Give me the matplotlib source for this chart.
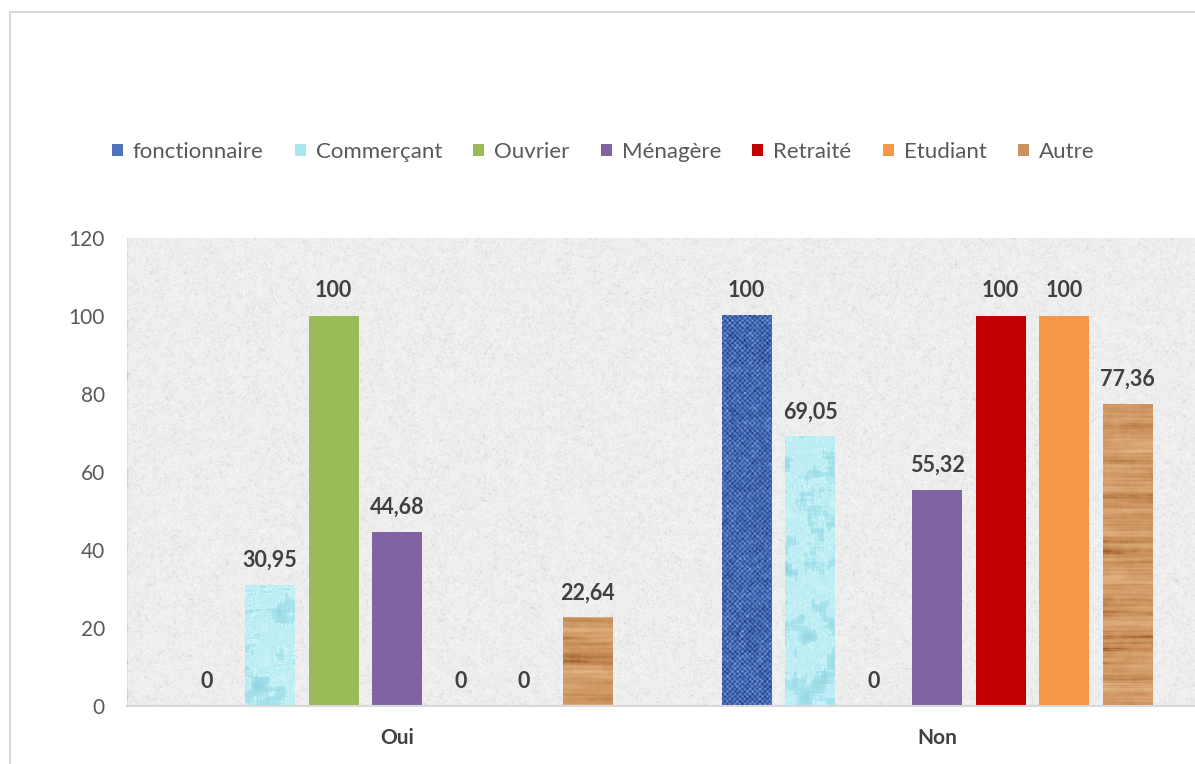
import numpy as np
import matplotlib
matplotlib.use("Agg")
import matplotlib.pyplot as plt
from matplotlib.colors import LinearSegmentedColormap
from matplotlib.patches import Patch
from matplotlib.lines import Line2D

plt.rcParams['font.family'] = ['Lato', 'DejaVu Sans']

groups = ["Oui", "Non"]
professions = ["fonctionnaire", "Commerçant", "Ouvrier", "Ménagère",
               "Retraité", "Etudiant", "Autre"]
fonctionnaire = [0, 100]
commercant = [30.95, 69.05]
ouvrier = [100, 0]
menagere = [44.68, 55.32]
retraite = [0, 100]
etudiant = [0, 100]
autre = [22.64, 77.36]
series = [fonctionnaire, commercant, ouvrier, menagere, retraite, etudiant, autre]

colors = ["#4f74bd", "#a9e6ef", "#9bbb59", "#8064a2", "#c00000", "#f79646", "#c9925e"]
textures = ["weave", "bubbles", None, None, None, None, "wood"]

rng = np.random.default_rng(7)


def blur(a, kx, ky):
    # separable box blur
    if kx > 1:
        k = np.ones(kx) / kx
        a = np.apply_along_axis(lambda r: np.convolve(r, k, mode="same"), 1, a)
    if ky > 1:
        k = np.ones(ky) / ky
        a = np.apply_along_axis(lambda c: np.convolve(c, k, mode="same"), 0, a)
    return a


def norm(a):
    a = a - a.min()
    return a / (a.max() + 1e-9)


def make_texture(kind, w, h):
    h = max(h, 2)
    if kind == "weave":
        yy, xx = np.mgrid[0:h, 0:w]
        grid = np.cos(np.pi * xx / 2.5) * np.cos(np.pi * yy / 2.5)
        n = norm(blur(rng.random((h + 6, w + 6)), 2, 2))[3:h + 3, 3:w + 3]
        coarse = norm(blur(rng.random((h + 10, w + 10)), 5, 5))[5:h + 5, 5:w + 5]
        t = 0.3 * grid + 0.5 * n + 0.3 * coarse
        cmap = LinearSegmentedColormap.from_list("w", ["#162e62", "#34589f", "#5d83cc", "#a6c3f3"])
        return cmap(norm(t))
    if kind == "bubbles":
        n = blur(rng.random((h + 30, w + 30)), 13, 13)[15:h + 15, 15:w + 15]
        n = norm(n)
        ridge = np.exp(-((n - 0.55) / 0.05) ** 2)
        t = 0.7 * n + 0.3 * ridge
        cmap = LinearSegmentedColormap.from_list("b", ["#8fd2de", "#aee7ef", "#cff5f9"])
        return cmap(norm(t))
    if kind == "wood":
        fine = norm(blur(rng.random((h + 10, w + 160)), 120, 3)[5:h + 5, 80:w + 80])
        broad = norm(blur(rng.random((h + 20, w + 160)), 140, 9)[10:h + 10, 80:w + 80])
        n = norm(0.45 * fine + 0.55 * broad)
        cmap = LinearSegmentedColormap.from_list("o", ["#98582a", "#c0854f", "#d39e6b", "#e3b684"])
        return cmap(n ** 0.8)
    return None


W, H = 1195, 764
fig = plt.figure(figsize=(W / 100, H / 100), dpi=100)

# outer chart frame
fig.add_artist(Line2D([10 / W, 10 / W], [0, 1 - 12 / H], color="#d9d9d9", lw=1.5))
fig.add_artist(Line2D([10 / W, 1], [1 - 12 / H, 1 - 12 / H], color="#d9d9d9", lw=1.5))

ax_l, ax_r, ax_t, ax_b = 127, 1207, 238, 706
ax = fig.add_axes([ax_l / W, 1 - ax_b / H, (ax_r - ax_l) / W, (ax_b - ax_t) / H])

ymax = 120
px_per_unit = (ax_b - ax_t) / ymax
cat_px = (ax_r - ax_l) / 2
slot = 63.5 / cat_px
width = 50 / cat_px

# granite background
bh, bw = ax_b - ax_t, ax_r - ax_l
fine = blur(rng.random((bh, bw)), 2, 2)
mid = blur(rng.random((bh, bw)), 5, 5)
bg = norm(0.6 * norm(fine) + 0.4 * norm(mid))
bg_cmap = LinearSegmentedColormap.from_list("g", ["#b0b0b0", "#d6d6d6", "#ececec", "#f7f7f7"])
ax.imshow(bg_cmap(bg ** 0.55), extent=(-0.5, 1.5, 0, ymax), aspect="auto",
          interpolation="nearest", zorder=0)

x = np.arange(len(groups))
for i, (vals, col, tex) in enumerate(zip(series, colors, textures)):
    pos = x + (i - 3) * slot
    bars = ax.bar(pos, vals, width, color=col, zorder=2, label=professions[i])
    for b, v in zip(bars, vals):
        if tex is not None and v > 0:
            hpx = int(round(v * px_per_unit))
            img = make_texture(tex, 50, hpx)
            ax.imshow(img, extent=(b.get_x(), b.get_x() + width, 0, v),
                      aspect="auto", interpolation="bilinear", zorder=3)
        lbl = ("%g" % v).replace(".", ",")
        ax.annotate(lbl, (b.get_x() + width / 2, v), xytext=(0, 18),
                    textcoords="offset points", ha="center", va="center",
                    fontsize=15.5, fontweight="bold", color="#404040", zorder=5)

ax.set_xlim(-0.5, 1.5)
ax.set_ylim(0, ymax)
ax.set_yticks(np.arange(0, 121, 20))
ax.set_xticks(x)
ax.set_xticklabels(groups, fontsize=15, fontweight="bold", color="#404040")
ax.tick_params(axis="y", length=0, pad=16, labelsize=15, labelcolor="#595959")
ax.tick_params(axis="x", length=0, pad=16)
for s in ["left", "right", "top"]:
    ax.spines[s].set_visible(False)
ax.spines["bottom"].set_color("#d9d9d9")
ax.spines["bottom"].set_linewidth(1.5)
ax.spines["bottom"].set_zorder(4)

handles = [Patch(facecolor=c, label=p) for c, p in zip(colors, professions)]
fig.legend(handles=handles, loc="center", bbox_to_anchor=(603 / W, 1 - 152 / H),
           ncol=7, frameon=False, fontsize=16, labelcolor="#595959",
           handlelength=0.5, handleheight=0.5, handletextpad=0.45, columnspacing=1.4)

fig.savefig("out.png", dpi=100, facecolor="white")
